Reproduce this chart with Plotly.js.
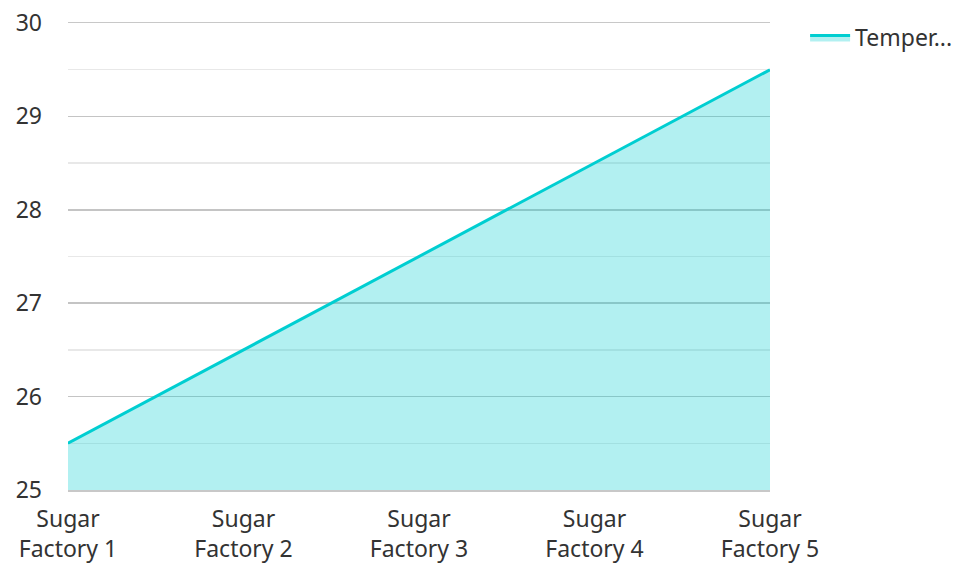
<!DOCTYPE html>
<html>
<head>
<meta charset="utf-8">
<script src="https://cdn.plot.ly/plotly-3.0.1.min.js"></script>
<style>html,body{margin:0;padding:0;background:#fff;}#chart{width:960px;height:564px;}</style>
</head>
<body>
<div id="chart"></div>
<script>
const categories = ["Sugar<br>Factory 1", "Sugar<br>Factory 2", "Sugar<br>Factory 3", "Sugar<br>Factory 4", "Sugar<br>Factory 5"];
const temperature = [25.5, 26.5, 27.5, 28.5, 29.5];
const seriesName = "Temper...";
const yTicks = [25, 26, 27, 28, 29, 30];

const trace = {
  x: categories,
  y: temperature,
  type: "scatter",
  mode: "lines",
  name: seriesName,
  line: {color: "#00CED1", width: 3},
  fill: "tozeroy",
  fillcolor: "rgba(0,206,209,0.3)"
};

const layout = {
  width: 960, height: 564,
  margin: {l: 68, r: 190, t: 23, b: 74, autoexpand: false},
  paper_bgcolor: "#fff", plot_bgcolor: "#fff",
  font: {family: "Noto Sans, Open Sans, sans-serif", size: 23, color: "#333"},
  showlegend: true,
  legend: {x: 1.05, y: 1.015, xanchor: "left", yanchor: "top", font: {size: 23, color: "#333"}, bgcolor: "rgba(0,0,0,0)", itemwidth: 40},
  xaxis: {
    type: "category",
    range: [0, 4],
    automargin: false,
    showgrid: false,
    zeroline: false,
    showline: true,
    linecolor: "#c8c8c8",
    linewidth: 1.5,
    mirror: true,
    ticks: "",
    ticklabelstandoff: 8,
    tickfont: {size: 23, color: "#333"},
    fixedrange: true
  },
  yaxis: {
    range: [25, 30],
    automargin: false,
    tickvals: yTicks,
    ticktext: yTicks.map(String),
    showgrid: true,
    gridcolor: "#c4c4c4",
    gridwidth: 1.5,
    minor: {dtick: 0.5, showgrid: true, gridcolor: "#e8e8e8", gridwidth: 1.5},
    zeroline: false,
    showline: false,
    ticks: "",
    ticklabelstandoff: 25,
    tickfont: {size: 23, color: "#333"},
    fixedrange: true
  }
};

Plotly.newPlot("chart", [trace], layout, {displayModeBar: false, staticPlot: true});
</script>
</body>
</html>
